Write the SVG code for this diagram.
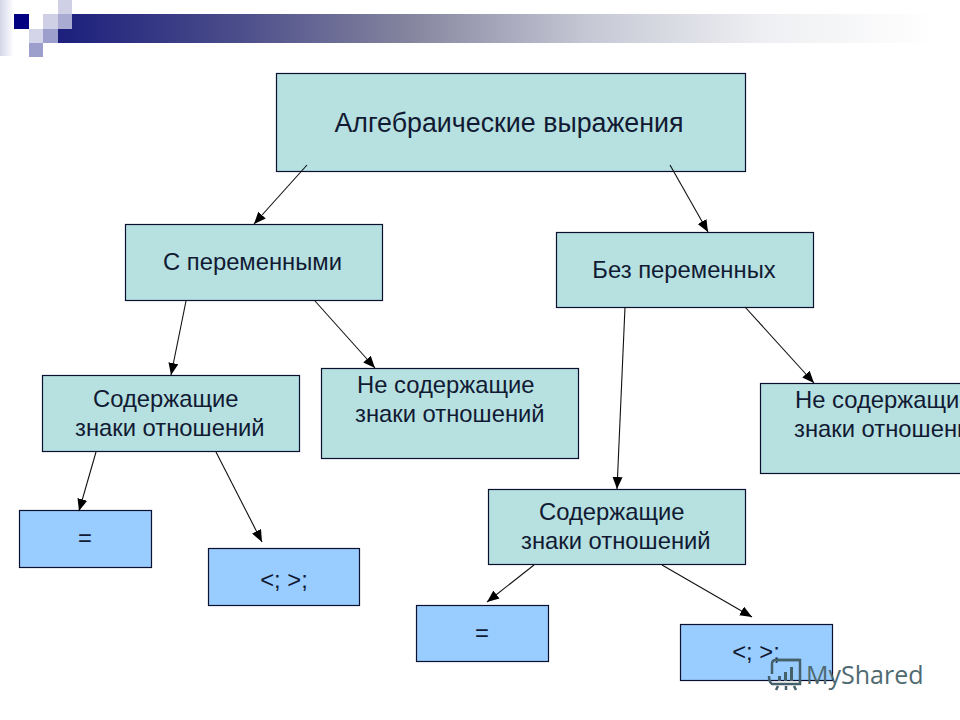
<svg xmlns="http://www.w3.org/2000/svg" width="960" height="720" viewBox="0 0 960 720">
<style>
.n{stroke:#0a1030;stroke-width:1.2}
.t{fill:#b7e0e0}
.b{fill:#99ccff}
text{font-family:"Liberation Sans",Arial,sans-serif;fill:#111a33;font-size:23.800px}
.c line{stroke:#111;stroke-width:1.1;marker-end:url(#a)}
</style>
<defs>
<marker id="a" markerUnits="userSpaceOnUse" markerWidth="13" markerHeight="10" refX="12" refY="5" orient="auto"><path d="M0 0L12 5L0 10z" fill="#000"/></marker>
<linearGradient id="g" x1="0" x2="1" y1="0" y2="0"><stop offset="0" stop-color="#1c1f7c"/><stop offset=".2" stop-color="#4a4c8a"/><stop offset=".4" stop-color="#85859f"/><stop offset=".6" stop-color="#c5c7d4"/><stop offset=".8" stop-color="#eeeff2"/><stop offset="1" stop-color="#fff"/></linearGradient>
<linearGradient id="f" x1="0" x2="1" y1="0" y2="0"><stop offset="0" stop-color="#d4d6e8"/><stop offset="1" stop-color="#fff"/></linearGradient>
</defs>
<rect width="960" height="720" fill="#fff"/>
<g id="banner">
<rect x="0" y="0" width="14" height="56" fill="url(#f)"/>
<rect x="58" y="14" width="880" height="29" fill="url(#g)"/>
<rect x="14" y="14" width="15" height="15" fill="#000080"/>
<rect x="43" y="14" width="15" height="15" fill="#cfd0e6"/>
<rect x="58" y="0" width="14" height="14" fill="#cfd0e6"/>
<rect x="58" y="14" width="14" height="15" fill="#a9abd3"/>
<rect x="29" y="29" width="14" height="14" fill="#d4d5e8"/>
<rect x="43" y="29" width="15" height="14" fill="#9c9ecb"/>
<rect x="29" y="43" width="14" height="14" fill="#9c9ecb"/>
</g>
<g id="root"><rect class="n t" x="276.500" y="73.500" width="469" height="98"/><text x="509" y="132" text-anchor="middle" style="font-size:26.800px">Алгебраические выражения</text></g>
<g id="with-vars"><rect class="n t" x="125.500" y="224.500" width="257" height="76"/><text x="252.500" y="270" text-anchor="middle">С переменными</text></g>
<g id="no-vars"><rect class="n t" x="556.500" y="232.500" width="257" height="75"/><text x="684" y="278" text-anchor="middle">Без переменных</text></g>
<g id="left-has"><rect class="n t" x="42.500" y="375.500" width="257" height="76"/><text x="93" y="407">Содержащие</text><text x="75" y="436">знаки отношений</text></g>
<g id="left-not"><rect class="n t" x="321.500" y="368.500" width="257" height="90"/><text x="357" y="393">Не содержащие</text><text x="355" y="422">знаки отношений</text></g>
<g id="right-not"><rect class="n t" x="760.500" y="383.500" width="240" height="90"/><text x="795" y="408">Не содержащие</text><text x="794" y="437">знаки отношений</text></g>
<g id="right-has"><rect class="n t" x="488.500" y="489.500" width="257" height="75"/><text x="539" y="520">Содержащие</text><text x="521" y="549">знаки отношений</text></g>
<g id="left-eq"><rect class="n b" x="19.500" y="510.500" width="132" height="57"/><text x="85" y="546" text-anchor="middle">=</text></g>
<g id="left-lt"><rect class="n b" x="208.500" y="548.500" width="151" height="57"/><text x="284" y="588" text-anchor="middle">&lt;; &gt;;</text></g>
<g id="right-eq"><rect class="n b" x="416.500" y="605.500" width="132" height="56"/><text x="482" y="641" text-anchor="middle">=</text></g>
<g id="right-lt"><rect class="n b" x="680.500" y="624.500" width="152" height="56"/><text x="756" y="660" text-anchor="middle">&lt;; &gt;;</text></g>
<g class="c" id="connectors">
<line x1="307" y1="165" x2="254" y2="224"/>
<line x1="670" y1="165" x2="708" y2="232"/>
<line x1="186" y1="301" x2="171" y2="375"/>
<line x1="315" y1="301" x2="375" y2="368"/>
<line x1="625" y1="307" x2="617" y2="489"/>
<line x1="745" y1="307" x2="814" y2="383"/>
<line x1="96" y1="452" x2="79" y2="511"/>
<line x1="216" y1="452" x2="262" y2="542"/>
<line x1="534" y1="565" x2="487" y2="602"/>
<line x1="662" y1="565" x2="752" y2="617"/>
</g>
<g id="watermark">
<g fill="none" stroke="#44606a" stroke-width="2.500"><path d="M772 674V664Q772 660 776 660H800V684H772Q769 682 769 676"/><path d="M776 660H800"/><path d="M778 686L776 690M786 686V690M794 686L796 690"/></g>
<path d="M778 681h3v-5h-3zM784 681h3v-9h-3zM790 681h3v-14h-3z" fill="#44606a"/>
<text x="806" y="684" style="font-size:25px;fill:#4f6a70;font-family:'Open Sans',sans-serif">MyShared</text>
</g>
</svg>
